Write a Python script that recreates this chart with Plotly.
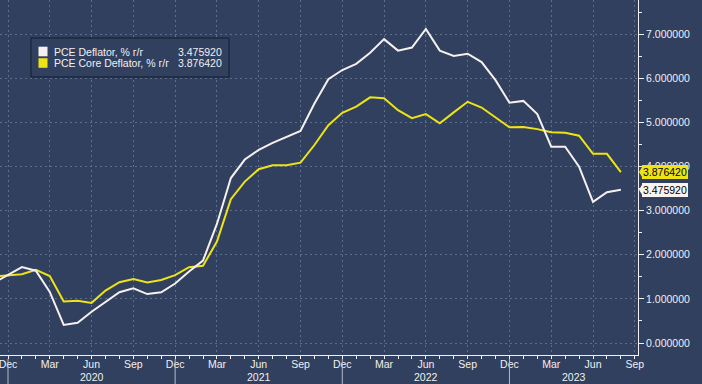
import plotly.graph_objects as go

# ---- data (monthly, Nov 2019 .. Aug 2023) ----
start_year, start_month = 2019, 11
pce = [1.37, 1.54, 1.72, 1.64, 1.16, 0.41, 0.46, 0.71, 0.94, 1.15, 1.24, 1.11, 1.15,
       1.35, 1.62, 1.87, 2.70, 3.74, 4.16, 4.38, 4.54, 4.68, 4.81, 5.43, 5.98,
       6.19, 6.33, 6.58, 6.89, 6.63, 6.70, 7.12, 6.63, 6.51, 6.56, 6.37, 5.96,
       5.45, 5.49, 5.19, 4.45, 4.45, 4.00, 3.20, 3.42, 3.475920]
core = [1.51, 1.53, 1.56, 1.66, 1.52, 0.94, 0.96, 0.91, 1.19, 1.38, 1.45, 1.37, 1.43,
        1.54, 1.72, 1.75, 2.30, 3.26, 3.66, 3.94, 4.03, 4.03, 4.09, 4.49, 4.94,
        5.22, 5.36, 5.57, 5.55, 5.28, 5.10, 5.19, 4.98, 5.23, 5.47, 5.34, 5.12,
        4.89, 4.90, 4.85, 4.78, 4.77, 4.70, 4.29, 4.29, 3.876420]
series_names = ["PCE Deflator, % г/г", "PCE Core Deflator, % г/г"]
month_names = ["Jan", "Feb", "Mar", "Apr", "May", "Jun", "Jul", "Aug", "Sep", "Oct", "Nov", "Dec"]
years = [2020, 2021, 2022, 2023]

# x = months relative to Dec 2019
x = [i - 1 for i in range(len(pce))]
def month_of(idx):
    m = (start_month - 1 + idx + 1) % 12
    return month_names[m]
xr = [-0.574, 45.23]
yr_range = [-0.272, 7.778]
tickvals = list(range(0, 46, 3))
ticktext = [month_of(v) for v in tickvals]

BG = "#30405e"
GRID = "#5d6d8c"
WHITE = "#f6f0ef"
YELLOW = "#eee415"
FONT = "Liberation Sans"

fig = go.Figure()
fig.add_trace(go.Scatter(x=x, y=core, mode="lines", line=dict(color=YELLOW, width=2),
                         showlegend=False, hoverinfo="skip"))
fig.add_trace(go.Scatter(x=x, y=pce, mode="lines", line=dict(color=WHITE, width=2),
                         showlegend=False, hoverinfo="skip"))

W_PLOT, H_PLOT = 638, 355
def px(v): return v / W_PLOT
def py(v): return 1 - v / H_PLOT
unit_px = H_PLOT / (yr_range[1] - yr_range[0])

shapes = []
annotations = []

# legend box
shapes.append(dict(type="rect", xref="paper", yref="paper", x0=px(31), x1=px(229),
                   y0=py(77), y1=py(38), line=dict(color="#151c2c", width=1),
                   fillcolor=BG, layer="above"))
rows = [(51.5, WHITE, series_names[0], pce[-1]), (63, YELLOW, series_names[1], core[-1])]
for yc, col, name, val in rows:
    shapes.append(dict(type="rect", xref="paper", yref="paper", x0=px(38.5), x1=px(47.5),
                       y0=py(yc + 4.8), y1=py(yc - 4.8), line=dict(width=0), fillcolor=col,
                       layer="above"))
    annotations.append(dict(xref="paper", yref="paper", x=px(52), y=py(yc), xanchor="left",
                            yanchor="middle", text=name, showarrow=False,
                            font=dict(family=FONT, size=10.5, color="#f0f0f0")))
    annotations.append(dict(xref="paper", yref="paper", x=px(176), y=py(yc), xanchor="left",
                            yanchor="middle", text=f"{val:.6f}", showarrow=False,
                            font=dict(family=FONT, size=10.5, color="#f0f0f0")))

# value flags on the right axis
for val, col in [(core[-1], YELLOW), (pce[-1], "#fbf3ee")]:
    annotations.append(dict(xref="paper", yref="y", x=1, y=val, xanchor="left", yanchor="middle",
                            xshift=4, text=f"{val:.6f}", showarrow=False, bgcolor=col,
                            borderpad=0, bordercolor=col, borderwidth=1,
                            font=dict(family=FONT, size=10.5, color="#000000")))
    h = 6.5 / unit_px
    shapes.append(dict(type="path", xref="paper", yref="y",
                       path=f"M {px(639)} {val} L {px(643)} {val + h} L {px(643)} {val - h} Z",
                       fillcolor=col, line=dict(width=0), layer="above"))

# year separators and labels
for i, yr in enumerate(years):
    sep = 12 * i
    shapes.append(dict(type="line", xref="x", yref="paper", x0=sep, x1=sep,
                       y0=py(359), y1=py(384), line=dict(color="#b4bccb", width=1)))
    lo = max(sep, xr[0])
    hi = min(sep + 12, xr[1])
    annotations.append(dict(xref="x", yref="paper", x=(lo + hi) / 2, y=py(377),
                            xanchor="center", yanchor="middle", text=str(yr), showarrow=False,
                            font=dict(family=FONT, size=10.5, color="#f0f0f0")))

fig.update_layout(
    width=702, height=384,
    margin=dict(l=0, r=702 - W_PLOT, t=0, b=384 - H_PLOT),
    paper_bgcolor=BG, plot_bgcolor=BG,
    shapes=shapes, annotations=annotations,
    showlegend=False,
    font=dict(family=FONT, size=10.5, color="#f0f0f0"),
)
fig.update_xaxes(
    range=xr, tickmode="array", tickvals=tickvals, ticktext=ticktext,
    showgrid=True, gridcolor=GRID, griddash="2px,3px", gridwidth=1,
    showline=True, linecolor="#f0f0f0", linewidth=1,
    ticks="outside", ticklen=3, tickcolor="#f0f0f0",
    minor=dict(dtick=1, tick0=0, ticks="outside", ticklen=3, tickcolor="#f0f0f0", showgrid=False),
    tickfont=dict(family=FONT, size=10.5, color="#f0f0f0"),
    ticklabeloverflow="allow", ticklabelstandoff=-4,
    zeroline=False,
)
fig.update_yaxes(
    range=yr_range, side="right", dtick=1, tick0=0, tickformat=".6f",
    showgrid=True, gridcolor=GRID, griddash="2px,3px", gridwidth=1,
    showline=True, linecolor="#f0f0f0", linewidth=1,
    ticks="outside", ticklen=5, tickcolor="#f0f0f0",
    minor=dict(dtick=0.5, tick0=0, ticks="outside", ticklen=3, tickcolor="#f0f0f0", showgrid=False),
    tickfont=dict(family=FONT, size=10.5, color="#f0f0f0"),
    ticklabeloverflow="allow",
    zeroline=False,
)

fig.write_html("out.html", config={"displayModeBar": False},
               post_script="document.body.style.margin='0';document.body.style.background='" + BG + "';")
